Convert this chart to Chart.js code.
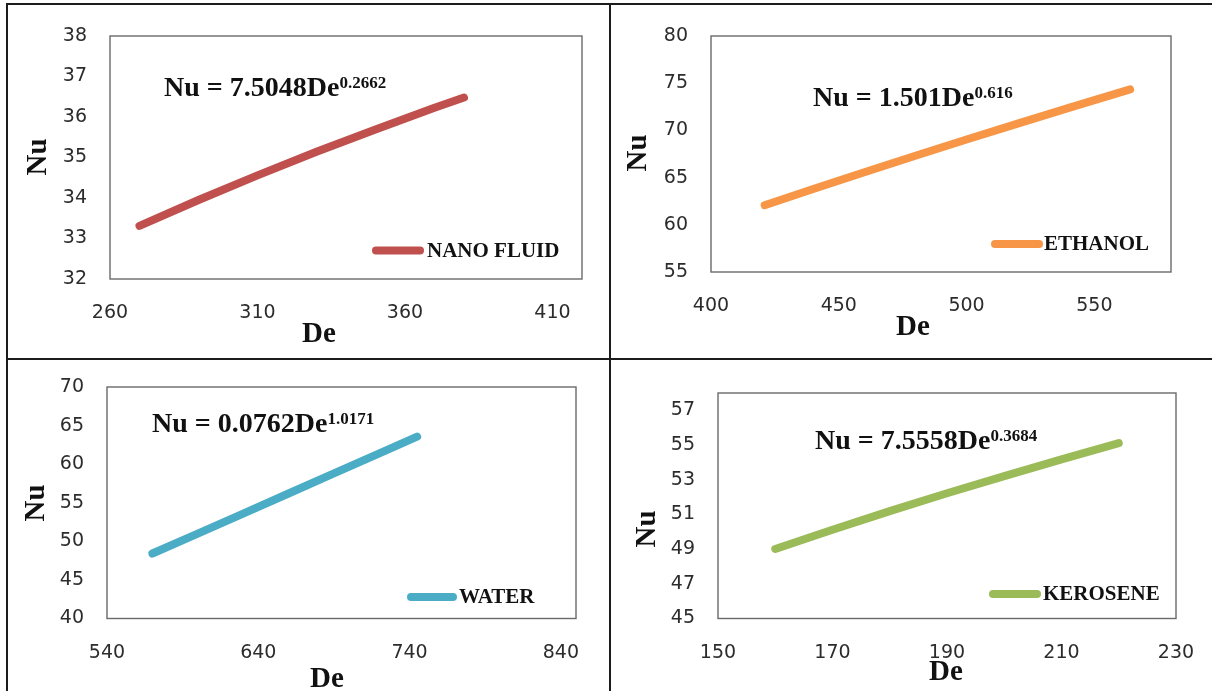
<!DOCTYPE html>
<html><head><meta charset="utf-8">
<script src="https://cdn.jsdelivr.net/npm/chart.js@4.4.1/dist/chart.umd.min.js"></script>
<style>
html,body{margin:0;padding:0;background:#fff;overflow:hidden;}
#wrap{position:relative;width:1212px;height:691px;background:#fff;}
canvas{position:absolute;}
.ln{position:absolute;background:#1c1c1c;}
</style></head><body>
<div id="wrap">
<canvas id="c1"></canvas>
<canvas id="c2"></canvas>
<canvas id="c3"></canvas>
<canvas id="c4"></canvas>
<div class="ln" style="left:6px;top:3px;width:2px;height:688px"></div>
<div class="ln" style="left:6px;top:3px;width:1206px;height:2px"></div>
<div class="ln" style="left:609px;top:3px;width:2px;height:688px"></div>
<div class="ln" style="left:6px;top:358px;width:1206px;height:2px"></div>
</div>
<script>
// ---------- data ----------
const nanoDe = [270, 290, 310, 330, 350, 370, 380];
const nanoNu = [33.31, 33.95, 34.56, 35.14, 35.69, 36.23, 36.48];
const nanoXTicks = [260, 310, 360, 410];
const nanoYTicks = [32, 33, 34, 35, 36, 37, 38];

const ethDe = [421, 440, 460, 480, 500, 520, 540, 564];
const ethNu = [62.07, 63.79, 65.57, 67.31, 69.03, 70.72, 72.38, 74.34];
const ethXTicks = [400, 450, 500, 550];
const ethYTicks = [55, 60, 65, 70, 75, 80];

const waterDe = [570, 600, 630, 660, 690, 720, 745];
const waterNu = [48.42, 51.01, 53.60, 56.20, 58.80, 61.41, 63.57];
const waterXTicks = [540, 640, 740, 840];
const waterYTicks = [40, 45, 50, 55, 60, 65, 70];

const keroDe = [160, 170, 180, 190, 200, 210, 220];
const keroNu = [49.01, 50.12, 51.19, 52.22, 53.21, 54.17, 55.11];
const keroXTicks = [150, 170, 190, 210, 230];
const keroYTicks = [45, 47, 49, 51, 53, 55, 57];

const seriesLabels = ['NANO FLUID', 'ETHANOL', 'WATER', 'KEROSENE'];
const equations = [
  ['Nu = 7.5048De', '0.2662'],
  ['Nu = 1.501De', '0.616'],
  ['Nu = 0.0762De', '1.0171'],
  ['Nu = 7.5558De', '0.3684']
];
const xTitle = 'De';
const yTitle = 'Nu';

// ---------- drawing ----------
const SERIF = '"Liberation Serif", "Times New Roman", serif';
const decor = {
  id: 'decor',
  afterDatasetsDraw(chart, args, o) {
    const ctx = chart.ctx, a = chart.chartArea;
    const ox = o.rect.x, oy = o.rect.y;
    ctx.save();
    // plot box
    ctx.strokeStyle = '#6a6a6a';
    ctx.lineWidth = 1.4;
    ctx.strokeRect(a.left, a.top, a.right - a.left, a.bottom - a.top);
    ctx.fillStyle = '#111';
    // equation
    ctx.textAlign = 'left';
    ctx.textBaseline = 'alphabetic';
    ctx.font = 'bold 28px ' + SERIF;
    const ex = o.eq.x - ox, ey = o.eq.y - oy;
    ctx.fillText(o.eq.base, ex, ey);
    const w = ctx.measureText(o.eq.base).width;
    ctx.font = 'bold 17px ' + SERIF;
    ctx.fillText(o.eq.sup, ex + w, ey - 8);
    // legend
    const ds = chart.data.datasets[0];
    ctx.strokeStyle = ds.borderColor;
    ctx.lineWidth = 8;
    ctx.lineCap = 'round';
    ctx.beginPath();
    ctx.moveTo(o.leg.x1 - ox + 4, o.leg.y - oy);
    ctx.lineTo(o.leg.x2 - ox - 4, o.leg.y - oy);
    ctx.stroke();
    ctx.font = 'bold 21px ' + SERIF;
    ctx.textBaseline = 'middle';
    ctx.fillText(ds.label, o.leg.tx - ox, o.leg.y - oy + 1);
    // axis titles
    ctx.font = 'bold 29px ' + SERIF;
    ctx.textAlign = 'center';
    ctx.fillText(o.de.text, o.de.x - ox, o.de.y - oy);
    ctx.translate(o.nu.x - ox, o.nu.y - oy);
    ctx.rotate(-Math.PI / 2);
    ctx.fillText(o.nu.text, 0, 0);
    ctx.restore();
  }
};

function makeChart(id, c) {
  const r = c.rect, a = c.area;
  const cv = document.getElementById(id);
  cv.width = r.w; cv.height = r.h;
  cv.style.left = r.x + 'px'; cv.style.top = r.y + 'px';
  cv.style.width = r.w + 'px'; cv.style.height = r.h + 'px';
  const tickFont = {family: '"DejaVu Sans", sans-serif', size: 19};
  return new Chart(cv, {
    type: 'line',
    data: {
      datasets: [{
        label: c.label,
        data: c.xs.map((x, i) => ({x: x, y: c.ys[i]})),
        borderColor: c.color,
        borderWidth: 8,
        borderCapStyle: 'round',
        borderJoinStyle: 'round',
        pointRadius: 0,
        tension: 0,
        fill: false
      }]
    },
    options: {
      responsive: false,
      animation: false,
      layout: {padding: {left: 0, top: a.t - r.y, right: r.x + r.w - a.r, bottom: 0}},
      plugins: {
        legend: {display: false},
        tooltip: {enabled: false},
        decor: {rect: r, eq: c.eq, leg: c.leg, nu: c.nu, de: c.de}
      },
      scales: {
        x: {
          type: 'linear', min: c.xmin, max: c.xmax,
          afterBuildTicks: s => { s.ticks = c.xTicks.map(v => ({value: v})); },
          afterFit: s => { s.height = r.y + r.h - a.b; },
          grid: {display: false, drawTicks: true, tickLength: 19},
          border: {display: false},
          ticks: {padding: 4, font: tickFont, color: '#2c2c2c', maxRotation: 0, autoSkip: false}
        },
        y: {
          type: 'linear', min: c.ymin, max: c.ymax,
          afterBuildTicks: s => { s.ticks = c.yTicks.map(v => ({value: v})); },
          afterFit: s => { s.width = a.l - r.x; },
          grid: {display: false, drawTicks: true, tickLength: 19},
          border: {display: false},
          ticks: {padding: 4, font: tickFont, color: '#2c2c2c', autoSkip: false}
        }
      }
    },
    plugins: [decor]
  });
}

makeChart('c1', {
  rect: {x: 8, y: 5, w: 601, h: 353}, area: {l: 110, t: 36, r: 582, b: 279},
  label: seriesLabels[0], xs: nanoDe, ys: nanoNu, color: '#C0504D',
  xmin: 260, xmax: 420, ymin: 32, ymax: 38, xTicks: nanoXTicks, yTicks: nanoYTicks,
  eq: {base: equations[0][0], sup: equations[0][1], x: 164, y: 96},
  leg: {x1: 372, x2: 424, y: 250.5, tx: 427},
  nu: {text: yTitle, x: 39, y: 157}, de: {text: xTitle, x: 319, y: 335}
});
makeChart('c2', {
  rect: {x: 611, y: 5, w: 601, h: 353}, area: {l: 711, t: 36, r: 1171, b: 272},
  label: seriesLabels[1], xs: ethDe, ys: ethNu, color: '#F79646',
  xmin: 400, xmax: 580, ymin: 55, ymax: 80, xTicks: ethXTicks, yTicks: ethYTicks,
  eq: {base: equations[1][0], sup: equations[1][1], x: 813, y: 106},
  leg: {x1: 991, x2: 1043, y: 244, tx: 1044},
  nu: {text: yTitle, x: 639, y: 153}, de: {text: xTitle, x: 913, y: 328}
});
makeChart('c3', {
  rect: {x: 8, y: 360, w: 601, h: 331}, area: {l: 107, t: 387, r: 576, b: 618.5},
  label: seriesLabels[2], xs: waterDe, ys: waterNu, color: '#4BACC6',
  xmin: 540, xmax: 850, ymin: 40, ymax: 70, xTicks: waterXTicks, yTicks: waterYTicks,
  eq: {base: equations[2][0], sup: equations[2][1], x: 152, y: 432},
  leg: {x1: 407, x2: 457, y: 597, tx: 459},
  nu: {text: yTitle, x: 37, y: 503}, de: {text: xTitle, x: 327, y: 680}
});
makeChart('c4', {
  rect: {x: 611, y: 360, w: 601, h: 331}, area: {l: 718, t: 393, r: 1176, b: 618.5},
  label: seriesLabels[3], xs: keroDe, ys: keroNu, color: '#9BBB59',
  xmin: 150, xmax: 230, ymin: 45, ymax: 58, xTicks: keroXTicks, yTicks: keroYTicks,
  eq: {base: equations[3][0], sup: equations[3][1], x: 815, y: 449},
  leg: {x1: 989, x2: 1041, y: 594, tx: 1043},
  nu: {text: yTitle, x: 648, y: 529}, de: {text: xTitle, x: 946, y: 673}
});
</script>
</body></html>
